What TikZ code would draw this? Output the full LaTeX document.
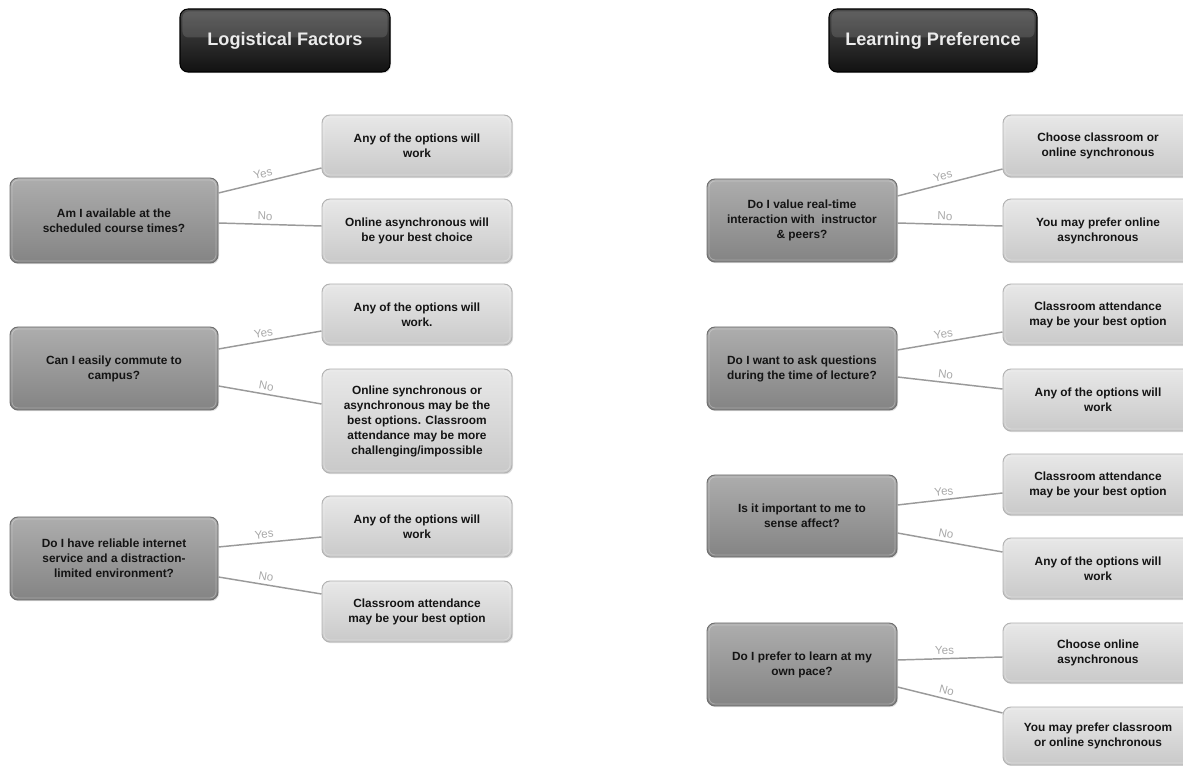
\documentclass[tikz,border=0pt]{standalone}
\usepackage{fontspec}
\setmainfont{Liberation Sans}
\usetikzlibrary{calc,shadows}
\definecolor{qtop}{HTML}{ADADAD}
\definecolor{qbot}{HTML}{848484}
\definecolor{qborder}{HTML}{6E6E6E}
\definecolor{atop}{HTML}{E8E8E8}
\definecolor{abot}{HTML}{C9C9C9}
\definecolor{aborder}{HTML}{B2B2B2}
\definecolor{htop}{HTML}{4A4A4A}
\definecolor{hbot}{HTML}{111111}
\definecolor{linec}{HTML}{9A9A9A}
\definecolor{lblc}{HTML}{A8A8A8}
\tikzset{
  boxbase/.style={rounded corners=6pt, align=center, inner sep=2pt,
    drop shadow={opacity=0.25, shadow xshift=0.8pt, shadow yshift=-0.9pt}},
  hbox/.style={boxbase, draw=black, line width=0.8pt, top color=htop, bottom color=hbot,
    middle color=black!82, text=white!92!black,
    font=\fontsize{13.6pt}{16pt}\selectfont\bfseries},
  qbox/.style={boxbase, draw=qborder, line width=0.7pt, top color=qtop, bottom color=qbot,
    text=black!92, font=\fontsize{8.9pt}{11.25pt}\selectfont\bfseries},
  abox/.style={boxbase, draw=aborder, line width=0.7pt, top color=atop, bottom color=abot,
    minimum width=142.5pt,
    text=black!92, font=\fontsize{8.9pt}{11.25pt}\selectfont\bfseries},
  qleft/.style={qbox, minimum width=156pt},
  qright/.style={qbox, minimum width=142.5pt},
  conn/.style={draw=linec, line width=1.1pt},
  lbl/.style={pos=0.45, above, sloped, inner sep=2.5pt, text=lblc,
    font=\fontsize{8.7pt}{10pt}\selectfont},
  bevel/.style={draw=white, opacity=0.28, line width=0.6pt, rounded corners=4.5pt},
  gloss/.style={fill=white, opacity=0.13, rounded corners=4.5pt}
}
\begin{document}
\begin{tikzpicture}[x=0.75pt,y=-0.75pt]
\useasboundingbox (0,0) rectangle (1183,766);
\clip (0,0) rectangle (1183,766);

% headers
\node[hbox, minimum width=210*0.75pt, minimum height=63*0.75pt] (h1) at (285,40.5) {};
\node[hbox, minimum width=208*0.75pt, minimum height=63*0.75pt] (h2) at (933,40.5) {};
\foreach \h in {h1,h2}{
  \fill[gloss] ($(\h.north west)+(3,3)$) rectangle ($(\h.east)+(-3,-3)$);
}
\node[text=white!92!black, font=\fontsize{13.6pt}{16pt}\selectfont\bfseries] at (h1) {Logistical Factors};
\node[text=white!92!black, font=\fontsize{13.6pt}{16pt}\selectfont\bfseries] at (h2) {Learning Preference};

% left column
\node[qleft, minimum height=85*0.75pt] (q1) at (114,220.5) {Am I available at the\\scheduled course times?};
\node[abox, minimum height=62*0.75pt] (a1) at (417,146) {Any of the options will\\work};
\node[abox, minimum height=64*0.75pt] (a2) at (417,231) {Online asynchronous will\\be your best choice};

\node[qleft, minimum height=83*0.75pt] (q2) at (114,368.5) {Can I easily commute to\\campus?};
\node[abox, minimum height=61*0.75pt] (a3) at (417,314.5) {Any of the options will\\work.};
\node[abox, minimum height=104*0.75pt] (a4) at (417,421) {Online synchronous or\\asynchronous may be the\\best options. Classroom\\attendance may be more\\challenging/impossible};

\node[qleft, minimum height=83*0.75pt] (q3) at (114,558.5) {Do I have reliable internet\\service and a distraction-\\limited environment?};
\node[abox, minimum height=61*0.75pt] (a5) at (417,526.5) {Any of the options will\\work};
\node[abox, minimum height=61*0.75pt] (a6) at (417,611.5) {Classroom attendance\\may be your best option};

% right column
\node[qright, minimum height=83*0.75pt] (q4) at (802,220.5) {Do I value real-time\\interaction with\ \ instructor\\\& peers?};
\node[abox, minimum height=62*0.75pt] (a7) at (1098,146) {Choose classroom or\\online synchronous};
\node[abox, minimum height=63*0.75pt] (a8) at (1098,230.5) {You may prefer online\\asynchronous};

\node[qright, minimum height=83*0.75pt] (q5) at (802,368.5) {Do I want to ask questions\\during the time of lecture?};
\node[abox, minimum height=61*0.75pt] (a9) at (1098,314.5) {Classroom attendance\\may be your best option};
\node[abox, minimum height=62*0.75pt] (a10) at (1098,400) {Any of the options will\\work};

\node[qright, minimum height=82*0.75pt] (q6) at (802,516) {Is it important to me to\\sense affect?};
\node[abox, minimum height=61*0.75pt] (a11) at (1098,484.5) {Classroom attendance\\may be your best option};
\node[abox, minimum height=61*0.75pt] (a12) at (1098,568.5) {Any of the options will\\work};

\node[qright, minimum height=83*0.75pt] (q7) at (802,664.5) {Do I prefer to learn at my\\own pace?};
\node[abox, minimum height=60*0.75pt] (a13) at (1098,653) {Choose online\\asynchronous};
\node[abox, minimum height=58*0.75pt] (a14) at (1098,736) {You may prefer classroom\\or online synchronous};

% bevel highlights
\foreach \n in {q1,q2,q3,q4,q5,q6,q7,a1,a2,a3,a4,a5,a6,a7,a8,a9,a10,a11,a12,a13,a14}{
  \draw[bevel] ($(\n.north west)+(2.5,2.5)$) rectangle ($(\n.south east)+(-2.5,-2.5)$);
}

% connectors
\draw[conn] ($(q1.east)+(0,-27.5)$) -- node[lbl]{Yes} ($(a1.west)+(0,22)$);
\draw[conn] ($(q1.east)+(0,2.5)$) -- node[lbl]{No} ($(a2.west)+(0,-5)$);
\draw[conn] ($(q2.east)+(0,-19.5)$) -- node[lbl]{Yes} ($(a3.west)+(0,16.5)$);
\draw[conn] ($(q2.east)+(0,17.5)$) -- node[lbl]{No} ($(a4.west)+(0,-17)$);
\draw[conn] ($(q3.east)+(0,-11.5)$) -- node[lbl]{Yes} ($(a5.west)+(0,10.5)$);
\draw[conn] ($(q3.east)+(0,18.5)$) -- node[lbl]{No} ($(a6.west)+(0,-17.5)$);

\draw[conn] ($(q4.east)+(0,-24.5)$) -- node[lbl]{Yes} ($(a7.west)+(0,23)$);
\draw[conn] ($(q4.east)+(0,2.5)$) -- node[lbl]{No} ($(a8.west)+(0,-4.5)$);
\draw[conn] ($(q5.east)+(0,-18.5)$) -- node[lbl]{Yes} ($(a9.west)+(0,17.5)$);
\draw[conn] ($(q5.east)+(0,8.5)$) -- node[lbl]{No} ($(a10.west)+(0,-11)$);
\draw[conn] ($(q6.east)+(0,-11)$) -- node[lbl]{Yes} ($(a11.west)+(0,8.5)$);
\draw[conn] ($(q6.east)+(0,17)$) -- node[lbl]{No} ($(a12.west)+(0,-16.5)$);
\draw[conn] ($(q7.east)+(0,-4.5)$) -- node[lbl]{Yes} ($(a13.west)+(0,4)$);
\draw[conn] ($(q7.east)+(0,22.5)$) -- node[lbl]{No} ($(a14.west)+(0,-23)$);
\end{tikzpicture}
\end{document}
